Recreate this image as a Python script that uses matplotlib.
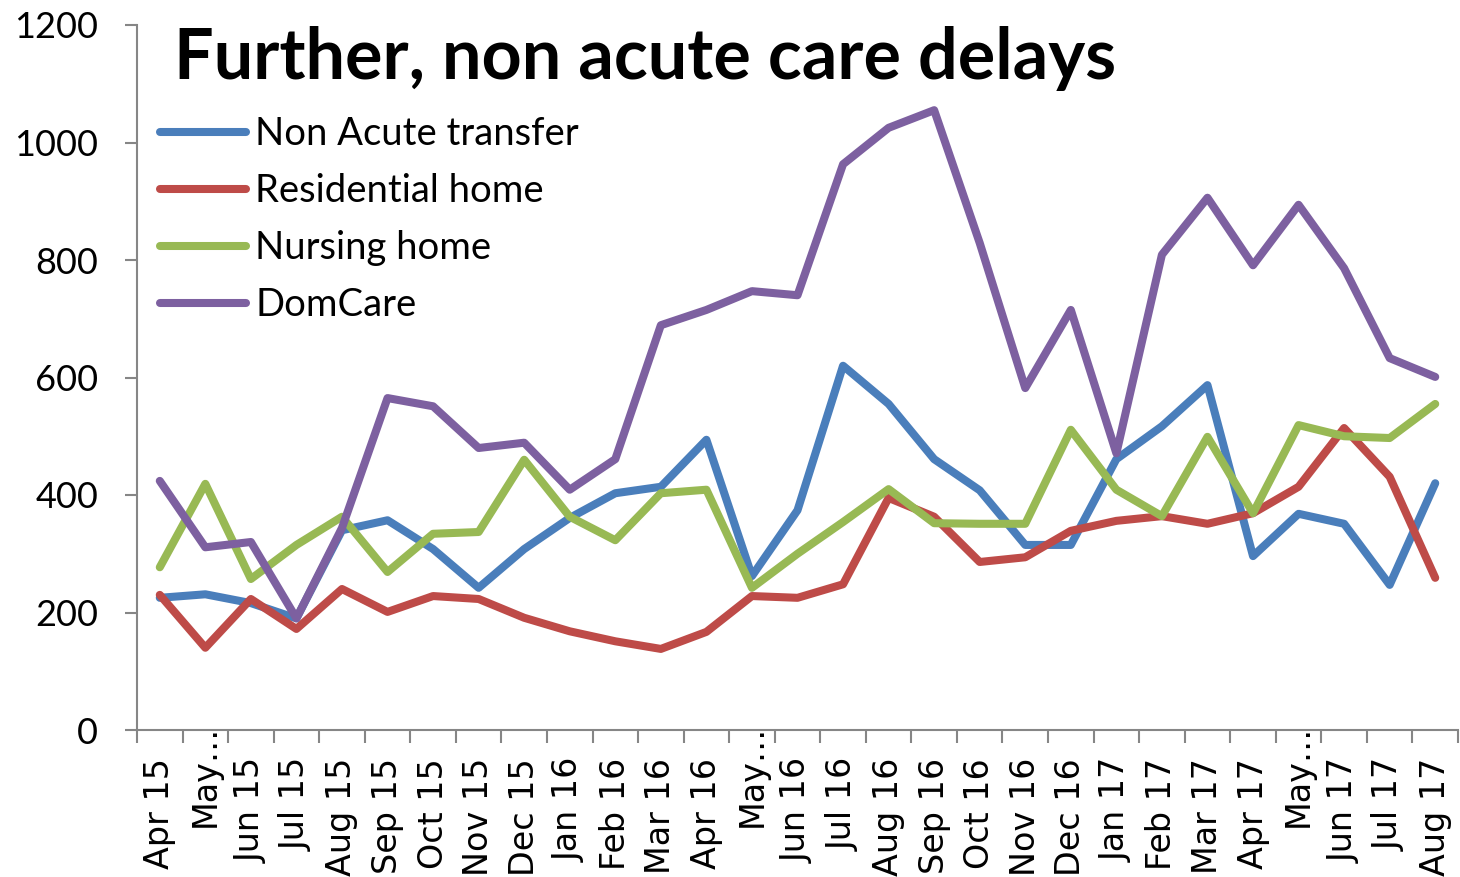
import matplotlib
matplotlib.use("Agg")
import matplotlib.pyplot as plt
from matplotlib.ticker import MultipleLocator, FixedLocator

months = ["Apr 15", "May…", "Jun 15", "Jul 15", "Aug 15", "Sep 15", "Oct 15", "Nov 15",
          "Dec 15", "Jan 16", "Feb 16", "Mar 16", "Apr 16", "May…", "Jun 16", "Jul 16",
          "Aug 16", "Sep 16", "Oct 16", "Nov 16", "Dec 16", "Jan 17", "Feb 17", "Mar 17",
          "Apr 17", "May…", "Jun 17", "Jul 17", "Aug 17"]

non_acute = [225, 231, 216, 190, 340, 357, 308, 242, 308, 361, 403, 414, 494, 262, 374,
             620, 555, 461, 408, 315, 315, 461, 517, 587, 296, 368, 351, 247, 420]
residential = [230, 140, 223, 172, 240, 201, 228, 223, 191, 168, 151, 138, 167, 228, 225,
               248, 395, 363, 286, 294, 339, 356, 364, 351, 369, 414, 514, 431, 259]
nursing = [277, 419, 257, 315, 363, 269, 334, 337, 460, 363, 323, 403, 409, 242, 300,
           354, 410, 352, 351, 351, 511, 409, 364, 499, 369, 519, 500, 497, 555]
domcare = [424, 311, 320, 190, 344, 565, 551, 480, 489, 409, 461, 689, 715, 747, 740,
           963, 1025, 1055, 829, 582, 715, 471, 809, 906, 791, 894, 786, 633, 601]

series = [("Non Acute transfer", non_acute, "#4A7EBB"),
          ("Residential home", residential, "#BE4B48"),
          ("Nursing home", nursing, "#98B954"),
          ("DomCare", domcare, "#7D60A0")]

title = "Further, non acute care delays"

fig = plt.figure(figsize=(14.6, 8.77), dpi=100)
ax = fig.add_axes([137/1460, 1 - 730/877, (1458-137)/1460, (730-25)/877])

x = list(range(len(months)))
for name, vals, col in series:
    ax.plot(x, vals, color=col, lw=5.8, label=name, solid_joinstyle="round",
            solid_capstyle="round")

ax.set_xlim(-0.5, len(months) - 0.5)
ax.set_ylim(0, 1200)
ax.yaxis.set_major_locator(MultipleLocator(200))

ax.set_xticks(x)
ax.set_xticklabels(months, rotation=90, fontfamily="DejaVu Sans", fontsize=24)
ax.xaxis.set_minor_locator(FixedLocator([i - 0.5 for i in range(len(months) + 1)]))
ax.tick_params(axis="x", which="major", length=0, pad=20)
ax.tick_params(axis="x", which="minor", length=9, width=1.5, color="#868686")
ax.tick_params(axis="y", which="major", length=9, width=1.5, color="#868686", pad=19)
for lab in ax.get_yticklabels():
    lab.set_fontfamily("Lato")
    lab.set_fontsize(26)

# truncated labels sit closer to the axis, as in the original
for i, t in enumerate(ax.xaxis.get_major_ticks()):
    if months[i].endswith("…"):
        t.set_pad(-4)

for s in ["top", "right"]:
    ax.spines[s].set_visible(False)
for s in ["left", "bottom"]:
    ax.spines[s].set_color("#868686")
    ax.spines[s].set_linewidth(1.5)

fig.text(174/1460, 1 - 79/877, title, fontfamily="Lato", fontweight="bold",
         fontsize=50.5, va="baseline", ha="left")

leg = ax.legend(loc="upper left", bbox_to_anchor=(160/1460, 1 - 116/877),
                bbox_transform=fig.transFigure, frameon=False,
                prop={"family": "Lato", "size": 27.5}, borderpad=0, borderaxespad=0,
                handlelength=2.25, handletextpad=0.25, labelspacing=0.55)

fig.savefig("out.png", dpi=100)
